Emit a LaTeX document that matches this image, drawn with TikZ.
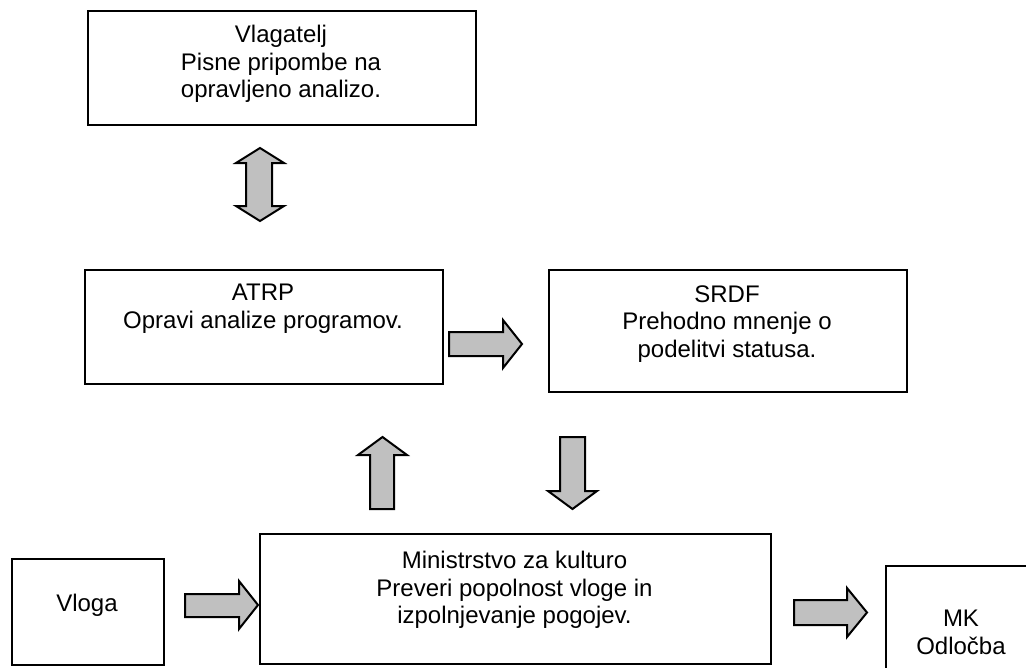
\documentclass[tikz,border=0pt]{standalone}
\usepackage{fontspec}
\setmainfont{Liberation Sans}
\definecolor{silver}{HTML}{C0C0C0}
\begin{document}
\begin{tikzpicture}[x=0.75pt,y=-0.75pt,
  box/.style={draw=black,line width=1.5pt,fill=white,inner sep=0pt,anchor=north west},
  lbl/.style={anchor=north,align=center,inner sep=0pt,font=\fontsize{18pt}{20.7pt}\selectfont},
  blk/.style={draw=black,line width=1.5pt,fill=silver,line join=miter}]
\useasboundingbox (0,0) rectangle (1026,668);
\clip (0,0) rectangle (1026,668);
\fill[white] (0,0) rectangle (1026,668);
% boxes
\node[box,minimum width=291pt,minimum height=85.5pt] (vl) at (87,10) {};
\node[box,minimum width=268.5pt,minimum height=85.5pt] (atrp) at (84,269) {};
\node[box,minimum width=268.5pt,minimum height=91.5pt] (srdf) at (548,269) {};
\node[box,minimum width=114pt,minimum height=79.5pt] (vloga) at (11,558) {};
\node[box,minimum width=383.25pt,minimum height=97.5pt] (min) at (259,533) {};
\node[box,minimum width=114pt,minimum height=79.5pt] (mk) at (885,565) {};
% texts
\node[lbl] (tvl) at (281,25) {Vlagatelj\\Pisne pripombe na\\opravljeno analizo.};
\node[lbl] (tatrp) at (263,284) {ATRP\\Opravi analize programov.};
\node[lbl] (tsrdf) at (727,285) {SRDF\\Prehodno mnenje o\\podelitvi statusa.};
\node[lbl] (tmin) at (514.5,551) {Ministrstvo za kulturo\\Preveri popolnost vloge in\\izpolnjevanje pogojev.};
\node[lbl] (tvloga) at (87,594) {Vloga};
\node[lbl] (tmk) at (961,610) {MK\\Odločba};
% block arrows
\draw[blk] (260,148)--(284,163)--(272,163)--(272,206)--(284,206)--(260,221)--(236,206)--(246,206)--(246,163)--(236,163)--cycle;
\draw[blk] (449,332)--(503,332)--(503,320)--(522,344)--(503,368)--(503,356)--(449,356)--cycle;
\draw[blk] (370,509)--(370,455)--(358,455)--(382.5,437)--(407,455)--(394,455)--(394,509)--cycle;
\draw[blk] (560,437)--(585,437)--(585,491)--(597,491)--(572.5,509)--(548,491)--(560,491)--cycle;
\draw[blk] (185,594)--(239,594)--(239,581)--(258,605)--(239,629)--(239,617)--(185,617)--cycle;
\draw[blk] (794,600)--(847,600)--(847,588)--(867,612.5)--(847,637)--(847,625)--(794,625)--cycle;
\end{tikzpicture}
\end{document}
